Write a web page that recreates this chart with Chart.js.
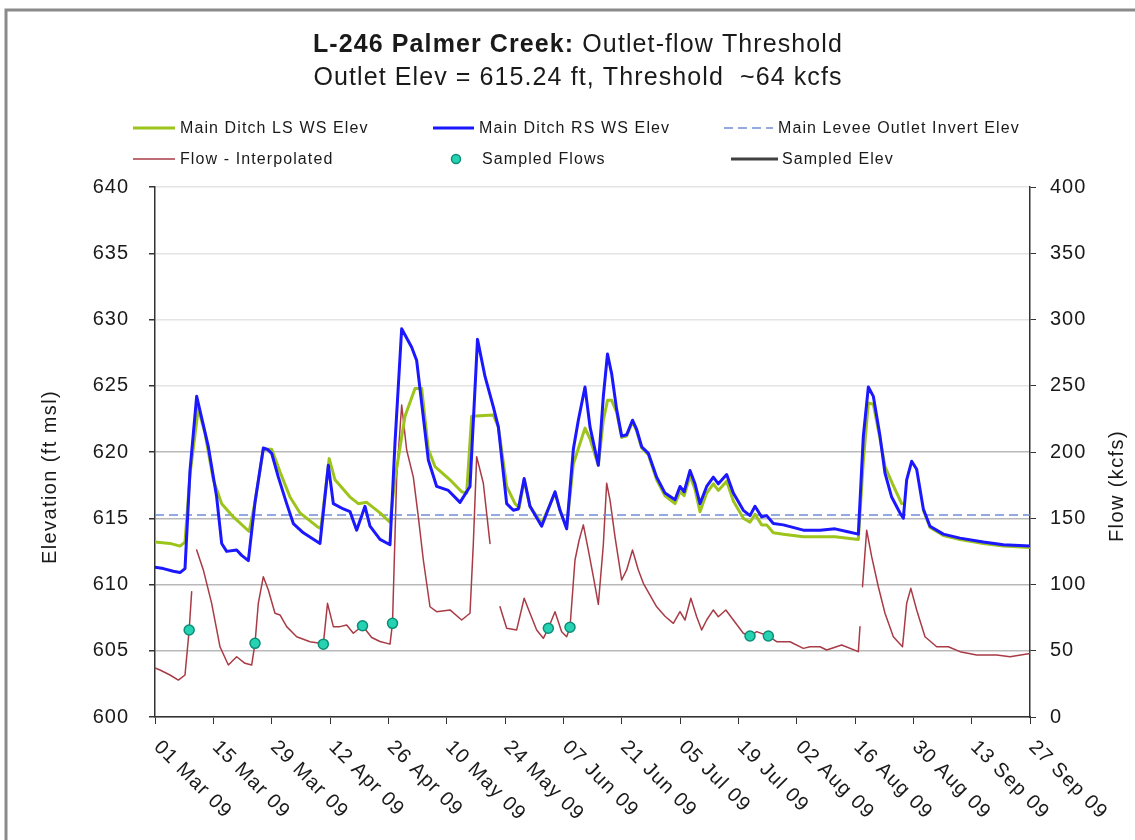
<!DOCTYPE html>
<html><head><meta charset="utf-8">
<script src="https://cdn.jsdelivr.net/npm/chart.js@4.4.0/dist/chart.umd.min.js"></script>
<style>html,body{margin:0;padding:0;background:#fff;}canvas{display:block;}</style>
</head><body>
<canvas id="c" width="1135" height="840"></canvas>
<script>
// ---- tick labels ----
const tickDays = [0,14,28,42,56,70,84,98,112,126,140,154,168,182,196,210];
const tickLabels = ['01 Mar 09','15 Mar 09','29 Mar 09','12 Apr 09','26 Apr 09','10 May 09','24 May 09','07 Jun 09','21 Jun 09','05 Jul 09','19 Jul 09','02 Aug 09','16 Aug 09','30 Aug 09','13 Sep 09','27 Sep 09'];

// ---- Main Ditch RS WS Elev (ft msl) ----
const rsDays = [0,2,4.4,6,7.2,8.4,10,12.8,14.8,16,17.2,19.6,20.8,22.4,24,26,27,28,29.6,31.6,33.2,35.6,39.6,41.6,42.8,45.2,46.8,48.4,50.4,51.6,54,56.4,57.6,59.2,61.6,62.8,65.6,67.6,70.4,73.2,75.6,77.4,79.2,81.2,82.4,84.4,86,87.2,88.6,90,92.8,96,97.2,98.8,100.4,101.6,103.2,104.4,106.4,107.6,108.6,109.6,110.8,112,113.2,114.6,115.6,116.8,118.4,120.4,122.4,124.8,126,127,128.4,129.6,130.8,132.4,134,135.2,137.2,138.8,141.2,142.8,144,145.6,146.8,148.4,150.8,155.6,159.6,163.2,166,168.8,170,171.2,172.4,174,175.2,176.8,178.8,179.6,180.4,181.6,182.8,184.4,186,189.2,193.2,198.8,203.6,210];
const rsElev = [611.3,611.2,611.0,610.9,611.2,618.6,624.2,620.4,616.6,613.1,612.5,612.6,612.2,611.8,616.2,620.3,620.2,619.9,618.1,616.1,614.6,613.9,613.1,619.0,616.1,615.7,615.5,614.1,615.9,614.4,613.4,613.0,620.7,629.3,627.9,626.9,619.4,617.4,617.1,616.2,617.4,628.5,625.7,623.4,621.9,616.1,615.6,615.7,618.0,615.9,614.4,617.0,615.6,614.2,620.2,622.4,624.9,621.9,619.0,624.2,627.4,625.9,623.2,621.2,621.3,622.4,621.7,620.4,619.9,618.1,616.9,616.4,617.4,617.0,618.6,617.6,616.1,617.4,618.1,617.6,618.3,616.9,615.6,615.2,615.9,615.1,615.2,614.6,614.5,614.1,614.1,614.2,614.0,613.8,621.2,624.9,624.2,621.2,618.4,616.6,615.4,615.0,617.9,619.3,618.7,615.7,614.4,613.8,613.5,613.2,613.0,612.9];

// ---- Main Ditch LS WS Elev (ft msl) ----
const lsDays = [0,3.6,6,7.2,8.4,10.4,12,14,16,18.8,22.6,24,26,28,30,32.4,34.8,38.8,39.8,41.8,43.2,46.8,48.8,50.8,54,56.4,57.6,60,62.4,64,65.6,67.2,70.8,73.6,74.8,76,81.2,82.4,84.4,86.4,87.4,88.6,90,92.8,96,97.2,98.8,100.4,103.2,104.4,106.4,107.6,108.6,109.6,110.8,112,113.2,114.6,115.6,116.8,118.4,120.4,122.4,124.8,126,127,128.4,129.6,130.8,132.4,134,135.2,137.2,138.8,141.2,142.8,144,145.6,146.8,148.4,150.8,155.6,159.6,163.2,168.8,170,171.2,172.4,174,175.2,177,179.2,179.6,184.4,186,189.2,193.2,198.8,203.6,210];
const lsElev = [613.2,613.1,612.9,613.2,618.3,623.3,621.4,617.9,616.1,615.1,614.0,616.2,620.2,620.2,618.5,616.6,615.4,614.4,614.2,619.5,617.9,616.6,616.1,616.2,615.4,614.7,618.0,622.7,624.8,624.8,620.2,618.9,617.9,617.0,616.9,622.7,622.8,621.9,617.4,616.1,615.8,617.9,615.9,614.6,616.9,615.6,614.3,619.1,621.8,621.0,619.0,622.4,623.9,623.9,623.0,621.1,621.2,622.3,621.6,620.3,619.8,617.9,616.7,616.1,617.0,616.7,618.2,617.2,615.5,616.9,617.6,617.1,617.8,616.3,615.0,614.7,615.3,614.5,614.5,613.9,613.8,613.6,613.6,613.6,613.4,619.3,623.7,623.6,621.0,618.9,617.6,616.1,null,615.6,614.3,613.7,613.4,613.1,612.9,612.8];

// ---- Main Levee Outlet Invert Elev ----
const outletDays = [0,210];
const outletElev = [615.24,615.24];

// ---- Flow - Interpolated (kcfs) ----
const flowDays = [0,1.2,3.6,5.6,7.2,8.2,8.8,9.4,10,11.6,13.6,15.6,17.6,19.6,21.6,23.2,24,24.8,26,27.2,28.8,30,31.6,34,37.2,39.6,40.4,41.4,42.8,44.4,46,47.6,49.8,52,54,56.4,57,58,59.2,60.4,62,63.2,64.4,66,67.6,70.8,73.6,75.6,76.4,77.2,78.8,80.4,81.6,82.8,84.4,86.8,88.6,90,91.6,93.2,94.4,96,97.6,98.8,99.6,100.8,101.8,102.8,104,105.2,106.4,107.6,108.4,109.2,110.4,112,113.2,114.6,116,117.2,120.4,122.4,124.4,126,127.2,128.6,130,131.2,132.4,134,135.2,137,138.8,141.2,142.8,144.4,147.2,149.2,152.4,155.6,157.2,159.6,161.2,164.8,168.8,169.2,169.5,169.8,170.8,172,173.6,175.2,177.2,179.4,180.4,181.4,182.8,184.8,187.6,190.4,193.2,197.2,202,205.2,210];
const flowVals = [37,35.5,31.7,27.9,31.7,65.7,94.6,null,126,111,85.8,53,39.2,45.5,40.5,39.2,55.6,86,105.9,95.8,78.3,77,68.2,60.6,56.8,55.6,55,85.8,68.2,68.2,69.4,63.2,68.9,60,57,55,70.7,181,235.5,201.5,181,151,118.5,83.2,79.5,80.8,73.2,78.3,131,196.5,176.4,131,null,83.2,67,65.7,89.6,78.3,65.7,59.4,67,79.5,64.4,60.6,67.7,118.5,133.6,145,126,106,85,130,176.4,163.8,136,103.4,111,126,111,100.9,83.2,76,70.7,79.5,73.2,89.6,75.7,65.7,73.2,80.8,75.7,80.8,73.2,63.2,61.1,64.4,61.1,56.8,56.8,51.8,53,53,50.6,54.3,49.3,68.2,null,98.3,141,121,98.3,78.3,60.6,53,85.8,97.1,80.8,60.6,53,53,49.3,46.8,46.8,45.5,48];

// ---- Sampled Flows (kcfs) ----
const sampDays = [8.2,24,40.4,49.8,57,94.4,99.6,142.8,147.2];
const sampFlows = [65.7,55.6,55,68.9,70.7,67,67.7,61.1,61.1];

// ---- Sampled Elev (none visible) ----
const sampElevDays = [];
const sampElev = [];

const titleBold = 'L-246 Palmer Creek:';
const titleRest = ' Outlet-flow Threshold';
const subTitle = 'Outlet Elev = 615.24 ft, Threshold  ~64 kcfs';
const yTitle = 'Elevation (ft msl)';
const y1Title = 'Flow (kcfs)';

const FONT = '"Liberation Sans", Arial, Helvetica, sans-serif';
const TXT = '#1a1a1a';

function pts(d, v) { return d.map((x, i) => ({x: x, y: v[i]})); }

const lineBase = {pointRadius: 0, borderJoinStyle: 'round', borderCapStyle: 'round'};
const datasets = [
  {label:'Sampled Flows', data: pts(sampDays, sampFlows), yAxisID:'y1', showLine:false,
   pointRadius:5, pointBackgroundColor:'#25d3b3', pointBorderColor:'#0d8d77', pointBorderWidth:1.5,
   borderColor:'#0d8d77', backgroundColor:'#25d3b3'},
  Object.assign({label:'Sampled Elev', data: pts(sampElevDays, sampElev), yAxisID:'y', borderColor:'#404040', borderWidth:3}, lineBase),
  Object.assign({label:'Main Ditch RS WS Elev', data: pts(rsDays, rsElev), yAxisID:'y', borderColor:'#1b17ff', borderWidth:3}, lineBase),
  Object.assign({label:'Main Ditch LS WS Elev', data: pts(lsDays, lsElev), yAxisID:'y', borderColor:'#9dc41b', borderWidth:3}, lineBase),
  {label:'Main Levee Outlet Invert Elev', data: pts(outletDays, outletElev), yAxisID:'y', borderColor:'#6f8fd8', borderWidth:1.5, borderDash:[9,5], pointRadius:0},
  Object.assign({label:'Flow - Interpolated', data: pts(flowDays, flowVals), yAxisID:'y1', borderColor:'#a83b45', borderWidth:1.5}, lineBase)
];

const legendItems = [
  {ds:3, lx:133, lw:42, tx:180, ty:128, kind:'line'},
  {ds:2, lx:433, lw:41, tx:479, ty:128, kind:'line'},
  {ds:4, lx:724, lw:49, tx:778, ty:128, kind:'line'},
  {ds:5, lx:133, lw:42, tx:180, ty:159, kind:'line'},
  {ds:0, lx:456, lw:0, tx:482, ty:159, kind:'point'},
  {ds:1, lx:731, lw:47, tx:782, ty:159, kind:'line'}
];

const decor = {
  id: 'decor',
  beforeDraw(chart) { chart.ctx.letterSpacing = '1px'; },
  afterDraw(chart) {
    const ctx = chart.ctx;
    const ca = chart.chartArea;
    ctx.save();
    // frame
    ctx.strokeStyle = '#8a8a8a'; ctx.lineWidth = 3;
    ctx.beginPath(); ctx.moveTo(6, 840); ctx.lineTo(6, 10); ctx.lineTo(1135, 10); ctx.stroke();

    // title
    ctx.fillStyle = TXT; ctx.textBaseline = 'middle';
    ctx.letterSpacing = '1.1px';
    ctx.font = 'bold 25px ' + FONT; const w1 = ctx.measureText(titleBold).width;
    ctx.font = '25px ' + FONT; const w2 = ctx.measureText(titleRest).width;
    const x0 = 578 - (w1 + w2) / 2;
    ctx.textAlign = 'left';
    ctx.font = 'bold 25px ' + FONT; ctx.fillText(titleBold, x0, 45);
    ctx.font = '25px ' + FONT; ctx.fillText(titleRest, x0 + w1, 45);
    ctx.textAlign = 'center';
    ctx.fillText(subTitle, 578, 78);

    // legend
    ctx.letterSpacing = '1.1px';
    ctx.font = '16px ' + FONT;
    ctx.textAlign = 'left';
    legendItems.forEach(it => {
      const ds = chart.data.datasets[it.ds];
      ctx.save();
      if (it.kind === 'line') {
        ctx.strokeStyle = ds.borderColor; ctx.lineWidth = ds.borderWidth;
        ctx.setLineDash(ds.borderDash || []);
        ctx.beginPath(); ctx.moveTo(it.lx, it.ty); ctx.lineTo(it.lx + it.lw, it.ty); ctx.stroke();
      } else {
        ctx.fillStyle = ds.pointBackgroundColor; ctx.strokeStyle = ds.pointBorderColor; ctx.lineWidth = 1.5;
        ctx.beginPath(); ctx.arc(it.lx, it.ty, 4.5, 0, Math.PI * 2); ctx.fill(); ctx.stroke();
      }
      ctx.restore();
      ctx.fillStyle = TXT;
      ctx.fillText(ds.label, it.tx, it.ty + 1);
    });

    // axis titles
    ctx.font = '20px ' + FONT; ctx.letterSpacing = '1.4px';
    ctx.textAlign = 'center'; ctx.textBaseline = 'middle';
    ctx.save(); ctx.translate(50, 477); ctx.rotate(-Math.PI / 2); ctx.fillText(yTitle, 0, 0); ctx.restore();
    ctx.save(); ctx.translate(1117, 486); ctx.rotate(-Math.PI / 2); ctx.fillText(y1Title, 0, 0); ctx.restore();

    // x tick labels (rotated 45deg clockwise)
    const xs = chart.scales.x;
    ctx.font = '20px ' + FONT; ctx.letterSpacing = '1.2px';
    ctx.textAlign = 'left'; ctx.textBaseline = 'middle';
    tickDays.forEach((d, i) => {
      const px = xs.getPixelForValue(d);
      ctx.save(); ctx.translate(px + 2, ca.bottom + 27); ctx.rotate(Math.PI / 4);
      ctx.fillText(tickLabels[i], 0, 0); ctx.restore();
    });
    ctx.restore();
  }
};

new Chart(document.getElementById('c'), {
  type: 'line',
  data: {datasets: datasets},
  options: {
    responsive: false, animation: false, devicePixelRatio: 1,
    spanGaps: false,
    layout: {padding: {top: 187}},
    plugins: {legend: {display: false}, title: {display: false}, tooltip: {enabled: false}},
    scales: {
      x: {
        type: 'linear', min: 0, max: 210,
        afterBuildTicks(s) { s.ticks = tickDays.map(v => ({value: v})); },
        ticks: {display: false, autoSkip: false},
        grid: {drawOnChartArea: false, color: '#333', tickLength: 7},
        border: {color: '#333', width: 1.5},
        afterFit(s) { s.height = 123; }
      },
      y: {
        position: 'left', min: 600, max: 640,
        ticks: {stepSize: 5, maxTicksLimit: 20, color: TXT, padding: 20, font: {family: FONT, size: 20}},
        grid: {color: c => (c.tick && c.tick.value > 620 ? '#e4e4e4' : '#b9b9b9'), lineWidth: 1.5, tickColor: '#333', tickLength: 6},
        border: {color: '#333', width: 1.5},
        afterFit(s) { s.width = 155; }
      },
      y1: {
        position: 'right', min: 0, max: 400,
        ticks: {stepSize: 50, maxTicksLimit: 20, color: TXT, padding: 14, font: {family: FONT, size: 20}},
        grid: {drawOnChartArea: false, color: '#333', tickLength: 6},
        border: {color: '#333', width: 1.5},
        afterFit(s) { s.width = 105; }
      }
    }
  },
  plugins: [decor]
});
</script>
</body></html>
